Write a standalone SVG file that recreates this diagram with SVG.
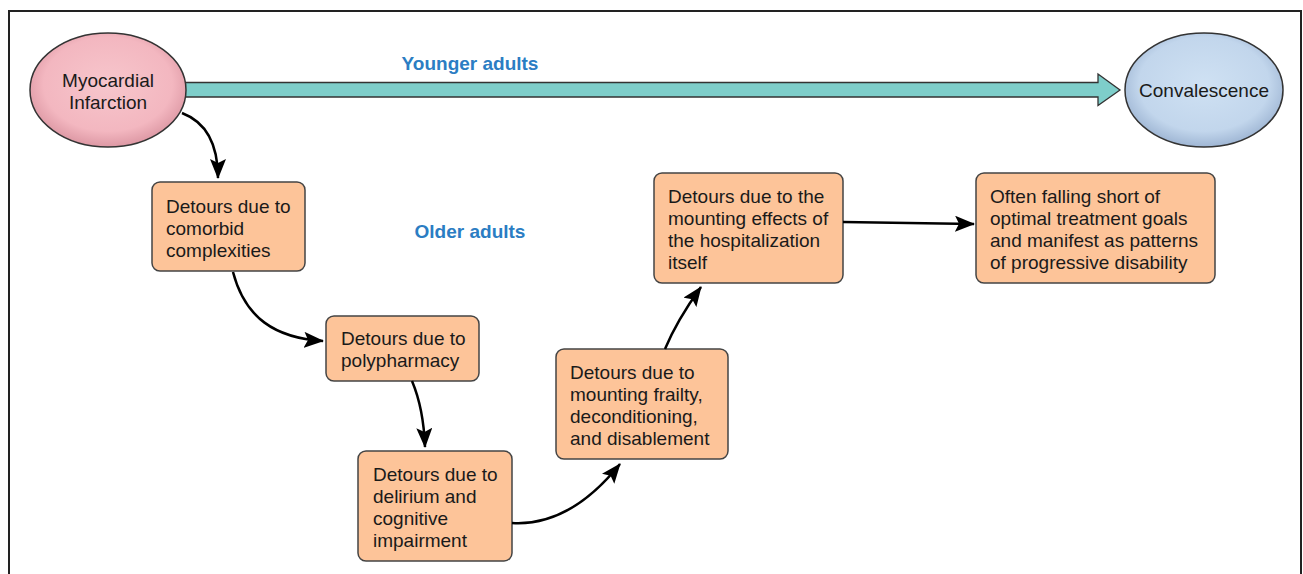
<svg xmlns="http://www.w3.org/2000/svg" width="1303" height="574" viewBox="0 0 1303 574">
<style>
text{font-family:"Liberation Sans",Arial,sans-serif;font-size:19px;fill:#1a1a1a}
.lbl{font-weight:bold;fill:#2b7dc3;text-anchor:middle}
.c{text-anchor:middle}
.box{fill:#fdc499;stroke:#444;stroke-width:1.5}
.conn{fill:none;stroke:#000;stroke-width:2.5}
</style>
<defs>
<radialGradient id="gPink" cx="50%" cy="45%" r="55%">
<stop offset="0" stop-color="#f7c6cc"/><stop offset="0.75" stop-color="#f3b7c0"/><stop offset="1" stop-color="#dd98a4"/>
</radialGradient>
<radialGradient id="gBlue" cx="50%" cy="45%" r="55%">
<stop offset="0" stop-color="#cfe1f3"/><stop offset="0.75" stop-color="#c2d6ec"/><stop offset="1" stop-color="#9fb6d4"/>
</radialGradient>
<marker id="ah" viewBox="0 0 20 16" refX="19" refY="8" markerWidth="20" markerHeight="16" markerUnits="userSpaceOnUse" orient="auto">
<path d="M0,0 L20,8 L0,16 L4,8 Z" fill="#000"/>
</marker>
</defs>
<rect x="9" y="11" width="1292" height="600" fill="#fff" stroke="#222" stroke-width="2"/>
<g id="younger-arrow">
<path d="M180,82.5 L1098,82.5 L1098,74 L1120,90 L1098,105.5 L1098,97 L180,97 Z" fill="#7ececa" stroke="#333" stroke-width="1.3"/>
<text class="lbl" x="470" y="70">Younger adults</text>
</g>
<text class="lbl" x="470" y="238">Older adults</text>
<g id="myocardial-infarction">
<ellipse cx="108" cy="90" rx="78" ry="57" fill="url(#gPink)" stroke="#333" stroke-width="1.5"/>
<text class="c" x="108" y="87">Myocardial</text>
<text class="c" x="108" y="109">Infarction</text>
</g>
<g id="convalescence">
<ellipse cx="1204" cy="90" rx="79" ry="57" fill="url(#gBlue)" stroke="#333" stroke-width="1.5"/>
<text class="c" x="1204" y="97">Convalescence</text>
</g>
<g id="comorbid">
<rect class="box" x="152" y="182" width="153" height="89" rx="8"/>
<text x="166" y="213">Detours due to</text>
<text x="166" y="235">comorbid</text>
<text x="166" y="257">complexities</text>
</g>
<g id="polypharmacy">
<rect class="box" x="326" y="316" width="153" height="65" rx="8"/>
<text x="341" y="345">Detours due to</text>
<text x="341" y="367">polypharmacy</text>
</g>
<g id="delirium">
<rect class="box" x="358" y="451" width="154" height="110" rx="8"/>
<text x="373" y="481">Detours due to</text>
<text x="373" y="503">delirium and</text>
<text x="373" y="525">cognitive</text>
<text x="373" y="547">impairment</text>
</g>
<g id="frailty">
<rect class="box" x="556" y="349" width="172" height="110" rx="8"/>
<text x="570" y="379">Detours due to</text>
<text x="570" y="401">mounting frailty,</text>
<text x="570" y="423">deconditioning,</text>
<text x="570" y="445">and disablement</text>
</g>
<g id="hospitalization">
<rect class="box" x="654" y="173" width="189" height="110" rx="8"/>
<text x="668" y="203">Detours due to the</text>
<text x="668" y="225">mounting effects of</text>
<text x="668" y="247">the hospitalization</text>
<text x="668" y="269">itself</text>
</g>
<g id="outcome">
<rect class="box" x="976" y="173" width="239" height="110" rx="8"/>
<text x="990" y="203">Often falling short of</text>
<text x="990" y="225">optimal treatment goals</text>
<text x="990" y="247">and manifest as patterns</text>
<text x="990" y="269">of progressive disability</text>
</g>
<g id="connectors">
<path class="conn" d="M182,113 C203,121 218,140 218,178" marker-end="url(#ah)"/>
<path class="conn" d="M233,272 C245,318 275,338 323,341" marker-end="url(#ah)"/>
<path class="conn" d="M412,381 C420,400 424,420 425,447" marker-end="url(#ah)"/>
<path class="conn" d="M512,523 C560,526 595,495 620,464" marker-end="url(#ah)"/>
<path class="conn" d="M665,349 C675,325 688,305 701,287" marker-end="url(#ah)"/>
<path class="conn" d="M843,222 L974,224" marker-end="url(#ah)"/>
</g>
</svg>
